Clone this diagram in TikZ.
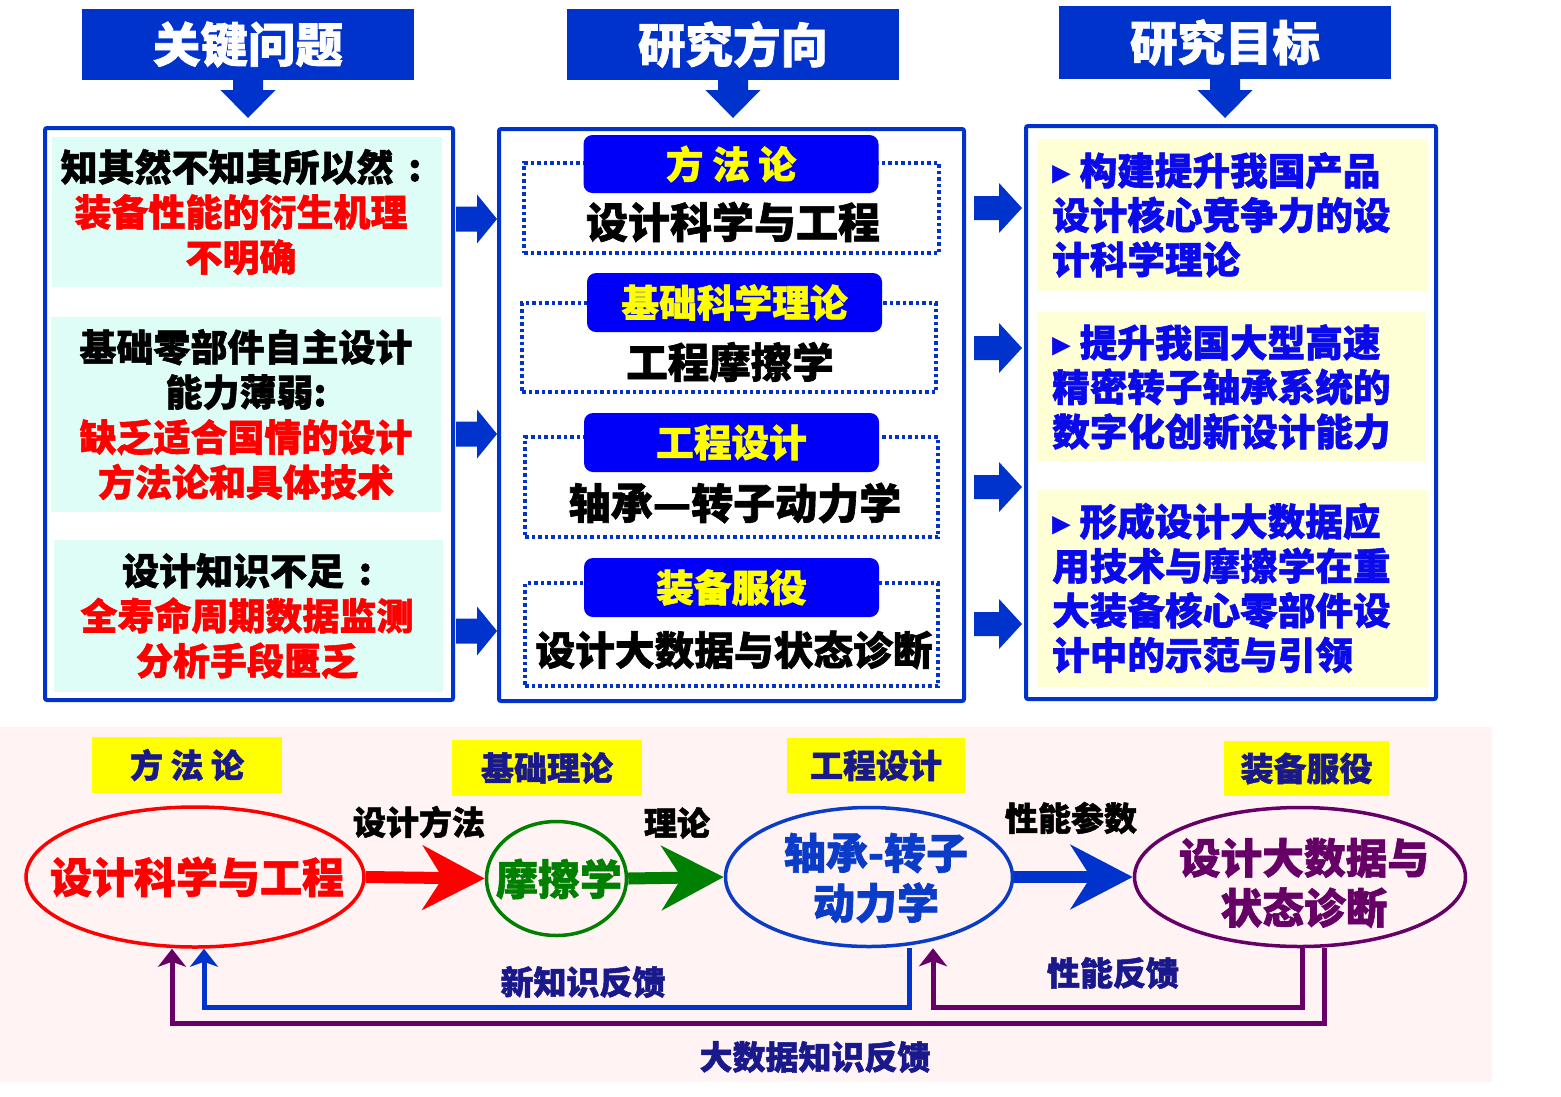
\documentclass[tikz,border=0pt]{standalone}
\usepackage{fontspec}
\setmainfont{Noto Sans CJK SC}[BoldFeatures={FakeBold=1.5}]
\newfontfamily\dejavu{DejaVu Sans}
\usetikzlibrary{arrows.meta,shapes.geometric}
\definecolor{hblue}{RGB}{0,51,204}
\definecolor{tblue}{RGB}{0,0,250}
\definecolor{tyellow}{RGB}{255,255,0}
\definecolor{cyanp}{RGB}{223,253,247}
\definecolor{yelp}{RGB}{255,255,213}
\definecolor{rtext}{RGB}{10,10,235}
\definecolor{pinkbg}{RGB}{255,243,243}
\definecolor{navy}{RGB}{25,25,140}
\definecolor{pur}{RGB}{102,0,102}
\definecolor{grn}{RGB}{0,128,0}
\definecolor{ebl}{RGB}{10,60,200}
\newcommand{\fs}[2]{\fontsize{#1}{#2}\selectfont}
% right block arrow: x0, xb, x1, yc, stem half, head half
\newcommand{\myrarrow}[6]{\fill[hblue] (#1,{#4-#5}) -- (#2,{#4-#5}) -- (#2,{#4-#6}) -- (#3,#4) -- (#2,{#4+#6}) -- (#2,{#4+#5}) -- (#1,{#4+#5}) -- cycle;}
% down block arrow: xc, y0, yb, ytip
\newcommand{\mydarrow}[4]{\fill[hblue] ({#1-15},#2) -- ({#1+15},#2) -- ({#1+15},#3) -- ({#1+27.5},#3) -- (#1,#4) -- ({#1-27.5},#3) -- ({#1-15},#3) -- cycle;}
\begin{document}
\begin{tikzpicture}[x=1pt,y=-1pt,
  hdr/.style={fill=hblue, text=white, font=\bfseries\fs{47.5}{50}, minimum width=332pt, minimum height=71pt, inner sep=0pt},
  colframe/.style={draw=hblue, line width=4pt, rounded corners=2pt, inner sep=0pt},
  cpanel/.style={fill=cyanp, inner sep=0pt, minimum width=390pt},
  ctxt/.style={inner sep=0pt, align=center, font=\bfseries\fs{37}{45}},
  ypanel/.style={fill=yelp, inner sep=0pt, minimum width=390pt},
  rtxt/.style={text=rtext, align=left, font=\bfseries\fs{37.6}{44.5}, inner sep=0pt, anchor=west},
  dotbox/.style={draw=hblue, line width=3.5pt, dash pattern=on 3.5pt off 3pt, inner sep=0pt},
  tbox/.style={fill=tblue, text=tyellow, rounded corners=9pt, minimum width=295pt, minimum height=58pt, inner sep=0pt, font=\bfseries\fs{37.7}{40}},
  mtxt/.style={font=\bfseries\fs{42}{45}, inner sep=0pt},
  ylab/.style={fill=tyellow, text=navy, inner sep=0pt, font=\bfseries\fs{33}{36}},
  elp/.style={ellipse, line width=3.5pt, inner sep=0pt, fill=pinkbg},
  lab/.style={font=\bfseries\fs{33}{36}, inner sep=0pt},
  fb/.style={line width=5pt, -{Stealth[length=18pt,width=28pt,inset=5pt]}},
  bigarr/.style={line width=12pt, -{Stealth[length=62pt,width=64pt,inset=20pt]}},
]
\useasboundingbox (0,0) rectangle (1561,1096);
\fill[white] (0,0) rectangle (1561,1096);

% ---------- headers ----------
\node[hdr] (H1) at (248,44.5) {关键问题};
\node[hdr] (H2) at (733,44.5) {研究方向};
\node[hdr, minimum height=73pt] (H3) at (1225,42.5) {研究目标};
\mydarrow{248}{79}{90}{118}
\mydarrow{733}{79}{90}{118}
\mydarrow{1225}{78}{90}{118}

% ---------- frames ----------
\node[colframe, minimum width=408pt, minimum height=572pt] (L) at (249,414) {};
\node[colframe, minimum width=465pt, minimum height=572pt] (M) at (731.5,415) {};
\node[colframe, minimum width=410pt, minimum height=573pt] (R) at (1231,412.5) {};

% ---------- left panels ----------
\node[cpanel, minimum height=150pt] (k1) at (247,212) {};
\node[cpanel, minimum height=195pt] (k2) at (246,414.5) {};
\node[cpanel, minimum height=152pt, minimum width=389pt] (k3) at (248.5,616) {};
\node[ctxt] (k1t) at (241,212)
  {知其然不知其所以然\hspace{0.4em}:\\\textcolor{red}{装备性能的衍生机理}\\\textcolor{red}{不明确}};
\node[ctxt] (k2t) at (246,414.5)
  {基础零部件自主设计\\能力薄弱:\\\textcolor{red}{缺乏适合国情的设计}\\\textcolor{red}{方法论和具体技术}};
\node[ctxt] (k3t) at (247,616)
  {设计知识不足\hspace{0.4em}:\\\textcolor{red}{全寿命周期数据监测}\\\textcolor{red}{分析手段匮乏}};

% ---------- left -> middle arrows ----------
\myrarrow{456}{477}{497}{219}{12.5}{24.5}
\myrarrow{456}{477}{497}{434}{12.5}{24.5}
\myrarrow{456}{477}{497}{631}{12.5}{24.5}

% ---------- middle column ----------
\node[dotbox, minimum width=415pt, minimum height=90pt] (d1) at (731.5,208) {};
\node[dotbox, minimum width=414pt, minimum height=89pt] (d2) at (729,347.5) {};
\node[dotbox, minimum width=413pt, minimum height=100pt] (d3) at (731.5,487) {};
\node[dotbox, minimum width=413pt, minimum height=103pt] (d4) at (731.5,634.5) {};
\node[tbox] (t1) at (731,164) {方 法 论};
\node[tbox, minimum height=59pt] (t2) at (734.5,302.5) {基础科学理论};
\node[tbox, minimum height=59pt] (t3) at (731.5,442.5) {工程设计};
\node[tbox, minimum height=59pt] (t4) at (731.5,587.5) {装备服役};
\node[mtxt] (m1) at (733,222) {设计科学与工程};
\node[mtxt, font=\bfseries\fs{41.5}{45}] (m2) at (730,362) {工程摩擦学};
\node[mtxt] (m3) at (735,503) {轴承—转子动力学};
\node[mtxt, font=\bfseries\fs{39.7}{45}] (m4) at (734,650) {设计大数据与状态诊断};

% ---------- middle -> right arrows ----------
\myrarrow{974}{999}{1022}{208}{12}{25}
\myrarrow{974}{999}{1022}{348}{12}{25}
\myrarrow{974}{999}{1022}{487}{12}{25}
\myrarrow{974}{999}{1022}{624}{12}{25}

% ---------- right panels ----------
\node[ypanel, minimum height=152pt] (g1) at (1232,215) {};
\node[ypanel, minimum height=149pt, minimum width=389pt] (g2) at (1231.5,386.5) {};
\node[ypanel, minimum height=197pt] (g3) at (1232,588.5) {};
\node[rtxt] (r1) at (1052,215) {{\dejavu\mdseries ▸} 构建提升我国产品\\设计核心竞争力的设\\计科学理论};
\node[rtxt] (r2) at (1052,387) {{\dejavu\mdseries ▸} 提升我国大型高速\\精密转子轴承系统的\\数字化创新设计能力};
\node[rtxt] (r3) at (1052,588) {{\dejavu\mdseries ▸} 形成设计大数据应\\用技术与摩擦学在重\\大装备核心零部件设\\计中的示范与引领};

% ---------- bottom section ----------
\fill[pinkbg] (0,727) rectangle (1492,1082);
\node[ylab, minimum width=190pt, minimum height=56pt] (y1) at (187,765) {方 法 论};
\node[ylab, minimum width=190pt, minimum height=56pt] (y2) at (547,768) {基础理论};
\node[ylab, minimum width=178pt, minimum height=55pt] (y3) at (876,765.5) {工程设计};
\node[ylab, minimum width=165pt, minimum height=55pt] (y4) at (1306.5,768.5) {装备服役};

\node[elp, draw=red, minimum width=338pt, minimum height=140pt] (E1) at (195,877) {};
\node[elp, draw=grn, minimum width=140pt, minimum height=114pt] (E2) at (556.5,878.5) {};
\node[elp, draw=ebl, minimum width=287pt, minimum height=139pt] (E3) at (869,877) {};
\node[elp, draw=pur, minimum width=331pt, minimum height=139pt] (E4) at (1300,877) {};
\node[mtxt, text=red] (e1t) at (197,877) {设计科学与工程};
\node[mtxt, text=grn] (e2t) at (559,879) {摩擦学};
\node[mtxt, text=ebl, align=center, font=\bfseries\fs{42}{50}] (e3t) at (876,878) {轴承-转子\\动力学};
\node[mtxt, text=pur, align=center, font=\bfseries\fs{41.7}{50}] (e4t) at (1304,883) {设计大数据与\\状态诊断};

\draw[bigarr, red] (E1.east) -- (E2.west);
\draw[bigarr, grn] (E2.east) -- (E3.west);
\draw[bigarr, hblue] (E3.east) -- (E4.west);
\node[lab] (l1) at (419,822) {设计方法};
\node[lab] (l2) at (677,823) {理论};
\node[lab] (l3) at (1071,818) {性能参数};

\coordinate (c1) at (909,1007);
\coordinate (c2) at (204,1007);
\coordinate (c3) at (1302,1007);
\coordinate (c4) at (933,1007);
\coordinate (c5) at (1324,1023);
\coordinate (c6) at (172,1023);
\draw[fb, pur] (E4.south -| c5) -- (c5) -- (c6) -- (E1.south -| c6);
\draw[fb, hblue] (E3.south -| c1) -- (c1) -- (c2) -- (E1.south -| c2);
\draw[fb, pur] (E4.south -| c3) -- (c3) -- (c4) -- (E3.south -| c4);
\node[lab, text=navy] (f1) at (583,982) {新知识反馈};
\node[lab, text=navy] (f2) at (1113,973) {性能反馈};
\node[lab, text=navy] (f3) at (815,1057) {大数据知识反馈};
\end{tikzpicture}
\end{document}
